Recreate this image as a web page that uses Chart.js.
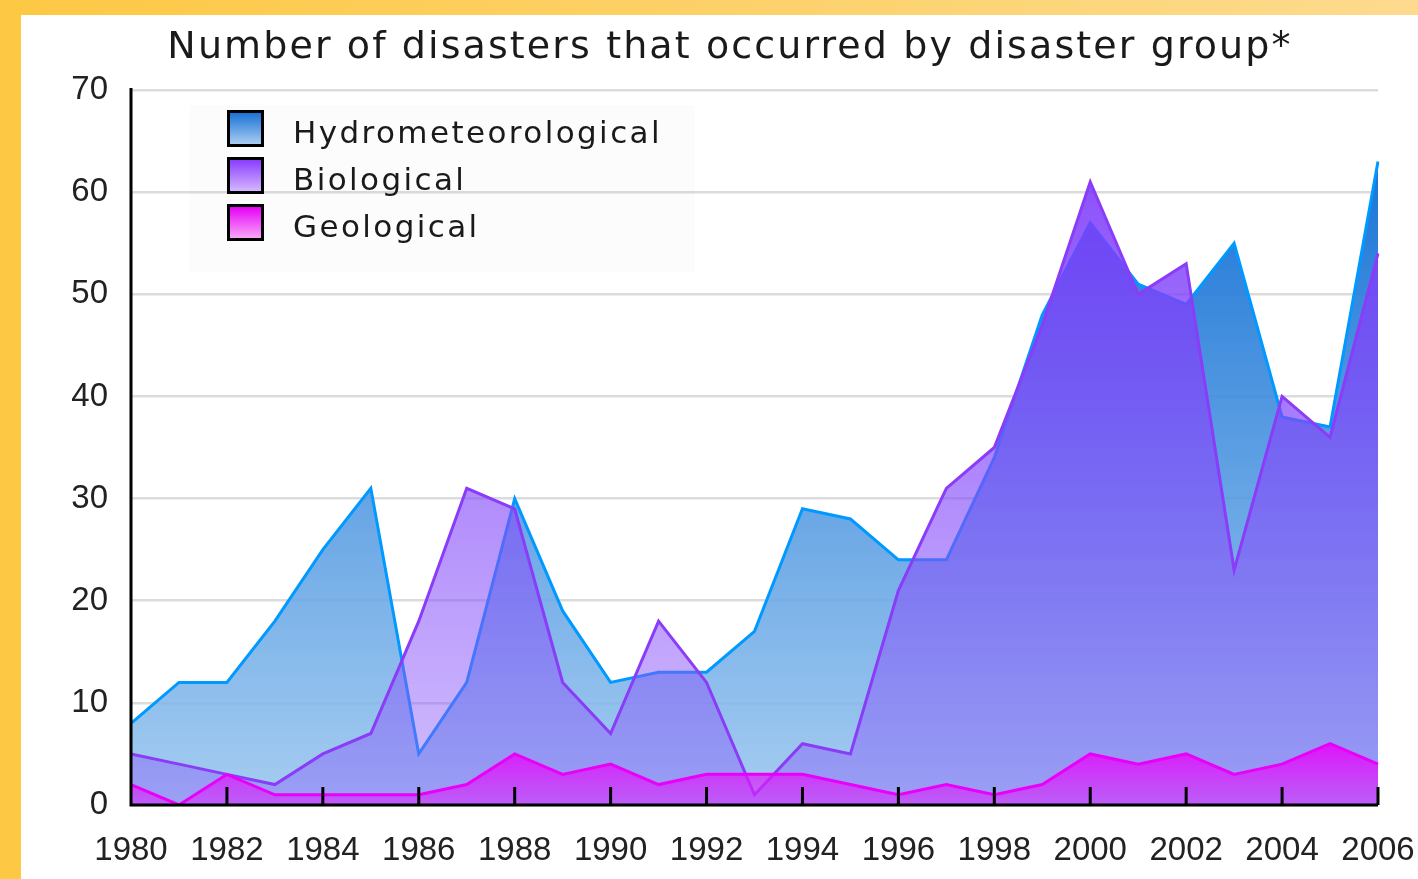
<!DOCTYPE html>
<html>
<head>
<meta charset="utf-8">
<script src="https://cdn.jsdelivr.net/npm/chart.js@4.4.1/dist/chart.umd.min.js"></script>
<style>
    html, body { margin: 0; padding: 0; }
    body {
        width: 1418px; height: 879px; position: relative; overflow: hidden;
        background: #ffffff; font-family: "DejaVu Sans", sans-serif;
    }
    #frameLeft { position: absolute; left: 0; top: 0; width: 21px; height: 879px; background: #fdc843; }
    #frameTop {
        position: absolute; left: 0; top: 0; width: 1418px; height: 15px;
        background: linear-gradient(to right, #fdc843, #fdda8e);
    }
    #title {
        position: absolute; top: 26px; left: 730px; transform: translateX(-50%);
        font-size: 38px; line-height: 38px; white-space: nowrap; color: #1a1a1a;
        letter-spacing: 2.1px;
    }
    #chartBox { position: absolute; left: 0; top: 0; width: 1418px; height: 879px; }
    #legend {
        position: absolute; left: 190px; top: 105px; width: 505px; height: 167px;
        background: rgba(0, 0, 0, 0.012);
    }
    .legend-row { position: absolute; left: 37px; height: 37px; }
    .legend-swatch {
        position: absolute; left: 0; top: 0; width: 31px; height: 31px;
        border: 3px solid #000;
    }
    .legend-text {
        position: absolute; left: 66px; top: 7px; font-size: 31px; line-height: 31px;
        letter-spacing: 2.4px; color: #1a1a1a; white-space: nowrap;
    }
</style>
</head>
<body>
<div id="frameLeft"></div>
<div id="frameTop"></div>
<div id="chartBox"><canvas id="disasterChart" width="1418" height="879"></canvas></div>
<div id="title">Number of disasters that occurred by disaster group*</div>
<div id="legend"></div>

<script>
// Data
const years = [1980, 1981, 1982, 1983, 1984, 1985, 1986, 1987, 1988, 1989,
               1990, 1991, 1992, 1993, 1994, 1995, 1996, 1997, 1998, 1999,
               2000, 2001, 2002, 2003, 2004, 2005, 2006];
const hydrometeorological = [8, 12, 12, 18, 25, 31, 5, 12, 30, 19,
                             12, 13, 13, 17, 29, 28, 24, 24, 34, 48,
                             57, 51, 49, 55, 38, 37, 63];
const biological = [5, 4, 3, 2, 5, 7, 18, 31, 29, 12,
                    7, 18, 12, 1, 6, 5, 21, 31, 35, 47,
                    61, 50, 53, 23, 40, 36, 54];
const geological = [2, 0, 3, 1, 1, 1, 1, 2, 5, 3,
                    4, 2, 3, 3, 3, 2, 1, 2, 1, 2,
                    5, 4, 5, 3, 4, 6, 4];
const seriesNames = ['Hydrometeorological', 'Biological', 'Geological'];
const yTicks = [0, 10, 20, 30, 40, 50, 60, 70];

// Colours for the legend squares
const swatchGradients = [
    'linear-gradient(#1a72d6, #a8ccf0)',
    'linear-gradient(#8a3eff, #d4b6ff)',
    'linear-gradient(#e600f6, #f8a6f8)'
];

const plotArea = { left: 131, top: 90, right: 1378, bottom: 805 };

function areaGradient(context, top, bottom) {
    const chart = context.chart;
    if (!chart.chartArea) return null;
    const g = chart.ctx.createLinearGradient(0, chart.chartArea.top, 0, chart.chartArea.bottom);
    g.addColorStop(0, top);
    g.addColorStop(1, bottom);
    return g;
}

function geoGradient(context) {
    const chart = context.chart;
    if (!chart.chartArea) return null;
    const y = chart.scales.y;
    const g = chart.ctx.createLinearGradient(0, y.getPixelForValue(7), 0, y.getPixelForValue(0));
    g.addColorStop(0, 'rgba(235, 0, 252, 0.95)');
    g.addColorStop(1, 'rgba(215, 40, 250, 0.55)');
    return g;
}

// Black axis lines and the small inward ticks on the bottom axis
const axisLines = {
    id: 'axisLines',
    afterDatasetsDraw(chart) {
        const { ctx, chartArea } = chart;
        const x = chart.scales.x;
        ctx.save();
        ctx.strokeStyle = '#000000';
        ctx.lineWidth = 3;
        ctx.beginPath();
        ctx.moveTo(chartArea.left, chartArea.top - 2);
        ctx.lineTo(chartArea.left, chartArea.bottom);
        ctx.lineTo(chartArea.right, chartArea.bottom);
        ctx.stroke();
        years.forEach((yr, i) => {
            if (yr % 2 !== 0 || i === 0) return;
            const px = x.getPixelForValue(i);
            ctx.beginPath();
            ctx.moveTo(px, chartArea.bottom);
            ctx.lineTo(px, chartArea.bottom - 18);
            ctx.stroke();
        });
        ctx.restore();
    }
};

const chart = new Chart(document.getElementById('disasterChart'), {
    type: 'line',
    data: {
        labels: years.map(String),
        datasets: [
            {
                label: seriesNames[0],
                data: hydrometeorological,
                order: 3,
                borderColor: '#0099ff',
                borderWidth: 3,
                fill: 'origin',
                backgroundColor: ctx => areaGradient(ctx, 'rgba(0, 100, 210, 0.97)', 'rgba(150, 196, 238, 0.85)')
            },
            {
                label: seriesNames[1],
                data: biological,
                order: 2,
                borderColor: '#8a3cf8',
                borderWidth: 3,
                fill: 'origin',
                backgroundColor: ctx => areaGradient(ctx, 'rgba(122, 52, 250, 0.95)', 'rgba(140, 92, 250, 0.4)')
            },
            {
                label: seriesNames[2],
                data: geological,
                order: 1,
                borderColor: '#ea00fa',
                borderWidth: 3,
                fill: 'origin',
                backgroundColor: geoGradient
            }
        ]
    },
    options: {
        responsive: false,
        animation: false,
        events: [],
        layout: { padding: 0 },
        elements: {
            line: { tension: 0 },
            point: { radius: 0 }
        },
        plugins: {
            legend: { display: false },
            title: { display: false },
            tooltip: { enabled: false }
        },
        scales: {
            x: {
                grid: { display: false, drawTicks: false },
                border: { display: false },
                ticks: {
                    autoSkip: false,
                    maxRotation: 0,
                    padding: 26,
                    color: '#222222',
                    font: { family: 'Liberation Sans', size: 33 },
                    callback: (value, i) => (years[i] % 2 === 0 ? String(years[i]) : '')
                },
                afterFit(scale) {
                    scale.height = 879 - plotArea.bottom;
                    scale.paddingLeft = 0;
                    scale.paddingRight = 1418 - plotArea.right;
                }
            },
            y: {
                min: yTicks[0],
                max: yTicks[yTicks.length - 1],
                grid: { color: '#dcdcdc', lineWidth: 2.5, drawTicks: false },
                border: { display: false },
                afterBuildTicks(scale) { scale.ticks = yTicks.map(v => ({ value: v })); },
                ticks: {
                    padding: 23,
                    color: '#222222',
                    font: { family: 'Liberation Sans', size: 33 }
                },
                afterFit(scale) {
                    scale.width = plotArea.left;
                    scale.paddingTop = plotArea.top;
                    scale.paddingBottom = 0;
                }
            }
        }
    },
    plugins: [axisLines]
});

// Legend inside the plot, top left
const legend = document.getElementById('legend');
seriesNames.forEach((name, i) => {
    const row = document.createElement('div');
    row.className = 'legend-row';
    row.style.top = (5 + i * 47) + 'px';
    const sw = document.createElement('div');
    sw.className = 'legend-swatch';
    sw.style.background = swatchGradients[i];
    const txt = document.createElement('div');
    txt.className = 'legend-text';
    txt.textContent = name;
    row.appendChild(sw);
    row.appendChild(txt);
    legend.appendChild(row);
});
</script>
</body>
</html>
